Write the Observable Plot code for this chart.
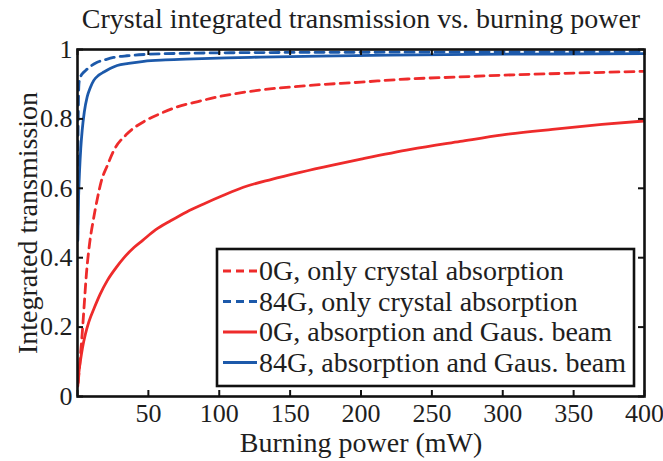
<!DOCTYPE html>
<html>
<head>
<meta charset="utf-8">
<script src="https://cdn.jsdelivr.net/npm/d3@7"></script>
<script src="https://cdn.jsdelivr.net/npm/@observablehq/plot@0.6"></script>
<style>
  html, body { margin: 0; padding: 0; background: #fff; }
  #chart { position: relative; width: 663px; height: 461px; }
  svg { display: block; }
</style>
</head>
<body>
<div id="chart"></div>
<script>
// ---------- data ----------
const titleText = "Crystal integrated transmission vs. burning power";
const xLabel = "Burning power (mW)";
const yLabel = "Integrated transmission";

const xTicks = [0, 50, 100, 150, 200, 250, 300, 350, 400];
const xTickLabels = ["", "50", "100", "150", "200", "250", "300", "350", "400"];
const yTicks = [0, 0.2, 0.4, 0.6, 0.8, 1];
const yTickLabels = ["0", "0.2", "0.4", "0.6", "0.8", "1"];

const seriesNames = [
  "0G, only crystal absorption",
  "84G, only crystal absorption",
  "0G, absorption and Gaus. beam",
  "84G, absorption and Gaus. beam"
];

// 0G, only crystal absorption (red dashed)
const red0Dx = [0.5, 1, 2, 3.3, 4.5, 6.3, 8.5, 11.1, 14, 16.9, 21, 25.6, 35, 48, 60, 70, 85, 98.5, 127, 162, 200, 233, 270, 300, 350, 400];
const red0Dy = [0.04, 0.065, 0.115, 0.18, 0.25, 0.354, 0.44, 0.507, 0.57, 0.622, 0.665, 0.709, 0.757, 0.795, 0.818, 0.834, 0.85, 0.863, 0.882, 0.896, 0.906, 0.915, 0.921, 0.926, 0.932, 0.937];

// 84G, only crystal absorption (blue dashed)
const blue84Dx = [0.1, 0.3, 0.6, 1, 1.5, 2.5, 4, 5.6, 8, 10, 13.9, 20, 25.5, 35, 49, 75, 124, 200, 300, 400];
const blue84Dy = [0.45, 0.7, 0.83, 0.9, 0.915, 0.925, 0.933, 0.939, 0.948, 0.954, 0.963, 0.971, 0.977, 0.982, 0.986, 0.989, 0.991, 0.992, 0.993, 0.994];

// 0G, absorption and Gaus. beam (red solid)
const red0Sx = [0.2, 1, 2.1, 3.5, 5.6, 8, 12, 16, 21, 27, 33, 40, 46, 55, 66, 77, 89, 103, 117, 137, 157, 180, 200, 235, 270, 300, 335, 370, 400];
const red0Sy = [0.03, 0.07, 0.104, 0.14, 0.18, 0.215, 0.257, 0.295, 0.334, 0.37, 0.401, 0.43, 0.45, 0.48, 0.507, 0.532, 0.555, 0.58, 0.603, 0.626, 0.646, 0.667, 0.684, 0.712, 0.735, 0.754, 0.77, 0.784, 0.794];

// 84G, absorption and Gaus. beam (blue solid)
const blue84Sx = [0.2, 0.8, 1.5, 2.3, 3.3, 4.8, 6.8, 9, 11.5, 15, 18.6, 23, 28, 36, 46.8, 62, 82, 105, 129, 170, 220, 280, 340, 400];
const blue84Sy = [0.45, 0.58, 0.655, 0.715, 0.767, 0.82, 0.863, 0.89, 0.911, 0.926, 0.935, 0.945, 0.954, 0.96, 0.966, 0.97, 0.973, 0.976, 0.978, 0.981, 0.984, 0.986, 0.987, 0.988];

// ---------- styles ----------
const RED = "#ee2b2b";
const BLUE = "#1c59aa";
const FONT = "'Liberation Serif', 'DejaVu Serif', serif";
const FS = 28;       // title, labels, legend
const FS_TICK = 26;  // tick labels
const TEXT = "#1e1e1e";
const DASH = "9,6";
const LW = 2.8;
const TICK = 6;

const toRows = (xs, ys) => xs.map((x, i) => ({x, y: ys[i]}));
const series = [
  {name: seriesNames[0], rows: toRows(red0Dx, red0Dy), color: RED, dash: DASH},
  {name: seriesNames[1], rows: toRows(blue84Dx, blue84Dy), color: BLUE, dash: DASH},
  {name: seriesNames[2], rows: toRows(red0Sx, red0Sy), color: RED, dash: null},
  {name: seriesNames[3], rows: toRows(blue84Sx, blue84Sy), color: BLUE, dash: null}
];
const drawOrder = [2, 3, 0, 1];

const W = 663, H = 461;
const margin = {left: 77, right: 19, top: 49, bottom: 65};
const innerW = W - margin.left - margin.right;
const innerH = H - margin.top - margin.bottom;

const chart = Plot.plot({
  width: W,
  height: H,
  marginLeft: margin.left,
  marginRight: margin.right,
  marginTop: margin.top,
  marginBottom: margin.bottom,
  style: {fontFamily: FONT, fontSize: FS + "px", color: TEXT, background: "#fff", overflow: "visible"},
  x: {domain: [0, 400], label: null},
  y: {domain: [0, 1], label: null},
  marks: [
    ...drawOrder.map(i => Plot.line(series[i].rows, {
      x: "x", y: "y", stroke: series[i].color, strokeWidth: LW,
      strokeDasharray: series[i].dash, curve: "monotone-x", clip: true
    })),
    // inward ticks on all four sides
    Plot.tickX(xTicks, {x: d => d, insetTop: innerH - TICK, stroke: "#111", strokeWidth: 2}),
    Plot.tickX(xTicks, {x: d => d, insetBottom: innerH - TICK, stroke: "#111", strokeWidth: 2}),
    Plot.tickY(yTicks, {y: d => d, insetRight: innerW - TICK, stroke: "#111", strokeWidth: 2}),
    Plot.tickY(yTicks, {y: d => d, insetLeft: innerW - TICK, stroke: "#111", strokeWidth: 2}),
    // tick labels
    Plot.axisX(xTicks, {anchor: "bottom", tickSize: 0, tickPadding: 7, tickFormat: (d, i) => xTickLabels[i], fontSize: FS_TICK, fill: TEXT, label: null}),
    Plot.axisY(yTicks, {anchor: "left", tickSize: 0, tickPadding: 5, tickFormat: (d, i) => yTickLabels[i], fontSize: FS_TICK, fill: TEXT, label: null}),
    Plot.frame({stroke: "#111", strokeWidth: 2.6}),
    // title and axis labels
    Plot.text([titleText], {frameAnchor: "top", textAnchor: "middle", lineAnchor: "middle", dy: -30, fontSize: FS, fill: TEXT}),
    Plot.text([xLabel], {frameAnchor: "bottom", textAnchor: "middle", lineAnchor: "middle", dy: 47, fontSize: FS, fill: TEXT}),
    Plot.text([yLabel], {frameAnchor: "left", textAnchor: "middle", lineAnchor: "middle", dx: -49, rotate: -90, fontSize: FS, fill: TEXT})
  ]
});

document.getElementById("chart").appendChild(chart);

// ---------- legend (inside the plot, lower right) ----------
const leg = {x: 217, y: 249, w: 417, h: 137, rowY0: 271, rowDy: 30.5, lineX0: 223, lineX1: 257, textX: 259};
const svg = d3.select(chart);
const g = svg.append("g").attr("font-family", FONT).attr("font-size", FS).attr("text-anchor", "start");
g.append("rect").attr("x", leg.x).attr("y", leg.y).attr("width", leg.w).attr("height", leg.h)
  .attr("fill", "#fff").attr("stroke", "#111").attr("stroke-width", 2.6);
series.forEach((s, i) => {
  const cy = leg.rowY0 + i * leg.rowDy;
  g.append("line").attr("x1", leg.lineX0).attr("x2", leg.lineX1).attr("y1", cy).attr("y2", cy)
    .attr("stroke", s.color).attr("stroke-width", LW).attr("stroke-dasharray", s.dash ? "8,5" : null);
  g.append("text").attr("x", leg.textX).attr("y", cy).attr("dy", "0.33em")
    .attr("text-anchor", "start").attr("fill", TEXT).text(s.name);
});
</script>
</body>
</html>
